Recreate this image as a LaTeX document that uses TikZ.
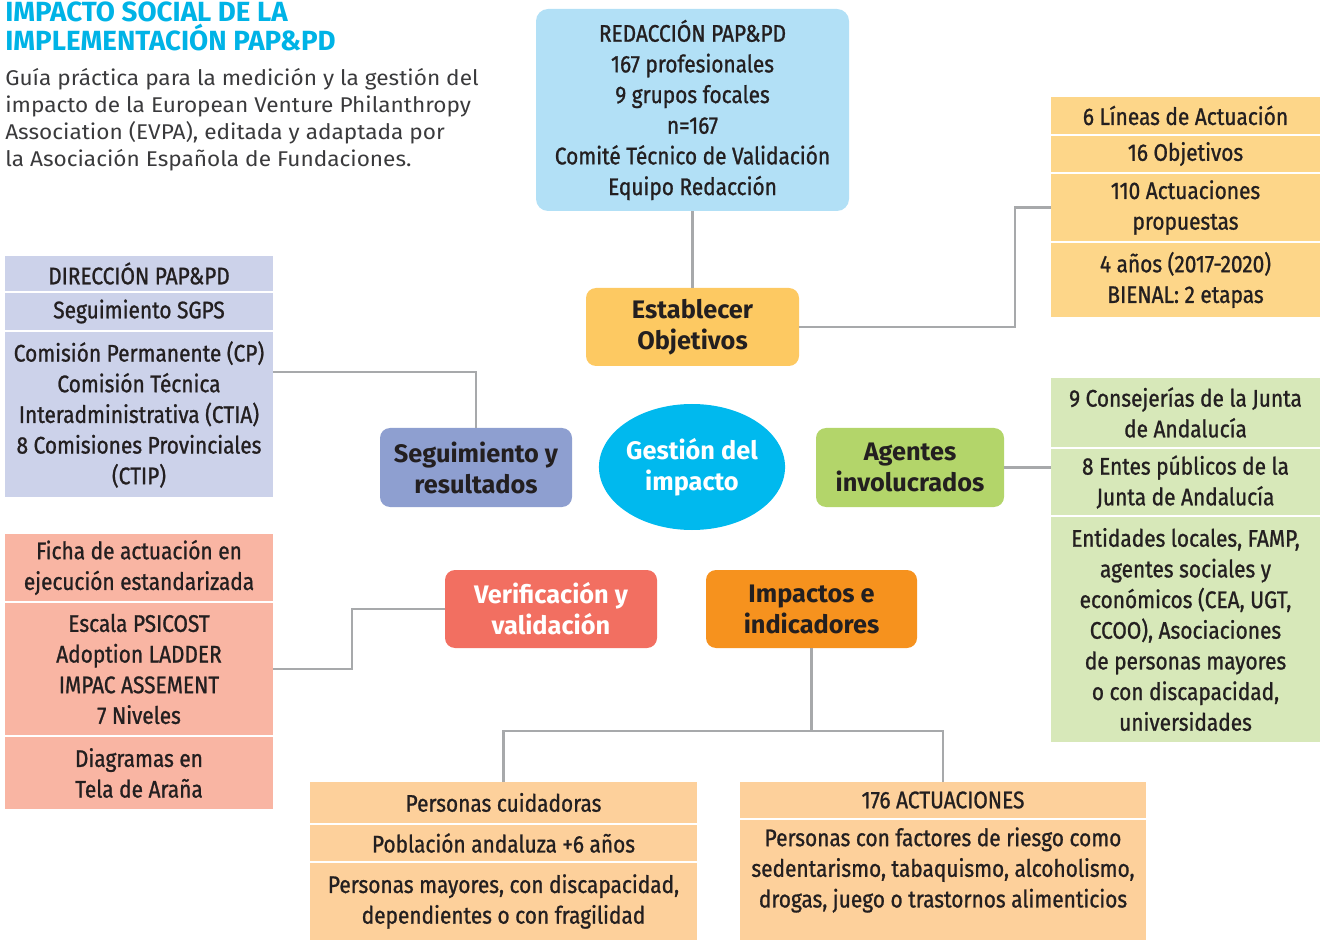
\documentclass[tikz,border=0pt]{standalone}
\usepackage{fontspec}
\setmainfont{Fira Sans}
\newfontfamily\condfont{Fira Sans}[FakeStretch=0.87,FakeBold=1]
\newfontfamily\bodyfont{Fira Sans}[FakeStretch=1.06]
\usetikzlibrary{shapes.geometric}
\definecolor{titleC}{HTML}{00B3E6}
\definecolor{bodyC}{HTML}{3A3A3C}
\definecolor{txt}{HTML}{231F20}
\definecolor{lineC}{HTML}{A7A9AB}
\definecolor{redC}{HTML}{B2E0F6}
\definecolor{estC}{HTML}{FDC962}
\definecolor{yelC}{HTML}{FDD689}
\definecolor{purC}{HTML}{CCD2EA}
\definecolor{segC}{HTML}{8E9FD0}
\definecolor{ellC}{HTML}{00B9EE}
\definecolor{ageC}{HTML}{B3D56A}
\definecolor{grnC}{HTML}{D7E8B9}
\definecolor{verC}{HTML}{F26F61}
\definecolor{pnkC}{HTML}{F9B5A3}
\definecolor{impC}{HTML}{F6921E}
\definecolor{botC}{HTML}{FDD09B}
\begin{document}
\begin{tikzpicture}[x=0.75pt,y=-0.75pt]
\tikzset{
  sz/.style 2 args={minimum width=#1*0.75pt, minimum height=#2*0.75pt},
  row/.style={inner sep=0pt, align=center, text=txt, font=\condfont\fontsize{18}{23}\selectfont},
  head/.style={rounded corners=7.5pt, inner sep=0pt, align=center, text=txt, font=\bfseries\fontsize{19}{23.25}\selectfont},
  conn/.style={draw=lineC, line width=2pt},
}
\useasboundingbox (0,0) rectangle (1322,941);
% title
\node[anchor=north west, inner sep=0pt, align=left, text=titleC, font=\bfseries\fontsize{20.8}{21.75}\selectfont] (title) at (5,2) {IMPACTO SOCIAL DE LA\\IMPLEMENTACIÓN PAP\&PD};
\node[anchor=north west, inner sep=0pt, align=left, text=bodyC, font=\bodyfont\fontsize{16}{20.25}\selectfont] (body) at (5,68) {Guía práctica para la medición y la gestión del\\impacto de la European Venture Philanthropy\\Association (EVPA), editada y adaptada por\\la Asociación Española de Fundaciones.};
% top box
\node[row, fill=redC, rounded corners=9pt, sz={313}{202}] (red) at (692.5,110) {REDACCIÓN PAP\&PD\\167 profesionales\\9 grupos focales\\n=167\\Comité Técnico de Validación\\Equipo Redacción};
% heads
\node[head, fill=estC, sz={213}{78}] (est) at (692.5,327) {Establecer\\Objetivos};
\node[head, fill=segC, sz={192}{79}] (seg) at (476,467.5) {Seguimiento y\\resultados};
\node[head, fill=ageC, sz={188}{79}] (age) at (910,467.5) {Agentes\\involucrados};
\node[head, fill=verC, sz={212}{78}, text=white] (ver) at (551,609) {Verificación y\\validación};
\node[head, fill=impC, sz={211}{78}] (imp) at (811.5,609) {Impactos e\\indicadores};
\node[ellipse, fill=ellC, inner sep=0pt, sz={164}{126}, align=center, text=white, font=\bfseries\fontsize{19}{23.25}\selectfont] (ell) at (692,467) {Gestión del\\impacto};
% yellow list
\node[row, fill=yelC, sz={269}{37}] (y1) at (1185.5,115.5) {6 Líneas de Actuación};
\node[row, fill=yelC, sz={269}{36}] (y2) at (1185.5,154) {16 Objetivos};
\node[row, fill=yelC, sz={269}{67}] (y3) at (1185.5,207.5) {110 Actuaciones\\propuestas};
\node[row, fill=yelC, sz={269}{74}] (y4) at (1185.5,280) {4 años (2017-2020)\\BIENAL: 2 etapas};
% purple list
\node[row, fill=purC, sz={268}{35}] (p1) at (139,273.5) {DIRECCIÓN PAP\&PD};
\node[row, fill=purC, sz={268}{37}] (p2) at (139,311.5) {Seguimiento SGPS};
\node[row, fill=purC, sz={268}{165}] (p3) at (139,414.5) {Comisión Permanente (CP)\\Comisión Técnica\\Interadministrativa (CTIA)\\8 Comisiones Provinciales\\(CTIP)};
% green list
\node[row, fill=grnC, sz={269}{69}] (g1) at (1185.5,412.5) {9 Consejerías de la Junta\\de Andalucía};
\node[row, fill=grnC, sz={269}{66}] (g2) at (1185.5,482) {8 Entes públicos de la\\Junta de Andalucía};
\node[row, fill=grnC, sz={269}{225}] (g3) at (1185.5,629.5) {Entidades locales, FAMP,\\agentes sociales y\\económicos (CEA, UGT,\\CCOO), Asociaciones\\de personas mayores\\o con discapacidad,\\universidades};
% pink list
\node[row, fill=pnkC, sz={268}{67}] (k1) at (139,567.5) {Ficha de actuación en\\ejecución estandarizada};
\node[row, fill=pnkC, sz={268}{132}] (k2) at (139,669) {Escala PSICOST\\Adoption LADDER\\IMPAC ASSEMENT\\7 Niveles};
\node[row, fill=pnkC, sz={268}{72}] (k3) at (139,773) {Diagramas en\\Tela de Araña};
% bottom left list
\node[row, fill=botC, sz={387}{41}] (b1) at (503.5,802.5) {Personas cuidadoras};
\node[row, fill=botC, sz={387}{36}] (b2) at (503.5,843) {Población andaluza +6 años};
\node[row, fill=botC, sz={387}{77}] (b3) at (503.5,901.5) {Personas mayores, con discapacidad,\\dependientes o con fragilidad};
% bottom right list
\node[row, fill=botC, sz={406}{36}] (c1) at (943,800) {176 ACTUACIONES};
\node[row, fill=botC, sz={406}{120}] (c2) at (943,880) {};
\node[row] (c2t) at (943,870) {Personas con factores de riesgo como\\sedentarismo, tabaquismo, alcoholismo,\\drogas, juego o trastornos alimenticios};
% connectors
\coordinate (j1) at (1015,207.5);
\coordinate (j2) at (273,372);
\coordinate (j3) at (352,669);
\coordinate (j4) at (811.5,731);
\draw[conn] (red.south) -- (est.north);
\draw[conn] (est.east) -| (j1) -- (y3.west);
\draw[conn] (j2) -| (seg.north);
\draw[conn] (age.east) -- (age.east -| g1.west);
\draw[conn] (ver.west) -| (j3) -- (k2.east);
\draw[conn] (imp.south) -- (j4);
\draw[conn] (b1.north) |- (j4) -| (c1.north);
\end{tikzpicture}
\end{document}
